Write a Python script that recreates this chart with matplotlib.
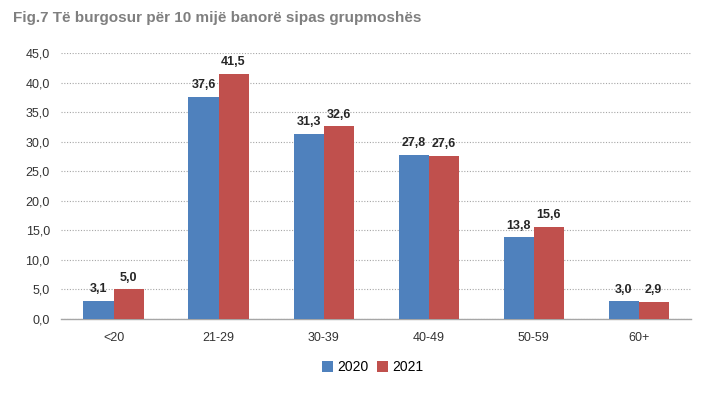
import matplotlib
matplotlib.use("Agg")
import matplotlib.pyplot as plt
import numpy as np
from matplotlib import font_manager

names = {f.name for f in font_manager.fontManager.ttflist}
fam = "Liberation Sans Narrow" if "Liberation Sans Narrow" in names else "Liberation Sans"
plt.rcParams['font.family'] = [fam, 'DejaVu Sans']

categories = ["<20", "21-29", "30-39", "40-49", "50-59", "60+"]
values_2020 = [3.1, 37.6, 31.3, 27.8, 13.8, 3.0]
values_2021 = [5.0, 41.5, 32.6, 27.6, 15.6, 2.9]
series_labels = ["2020", "2021"]
yticks = [0, 5, 10, 15, 20, 25, 30, 35, 40, 45]

fig = plt.figure(figsize=(7.2, 3.96), dpi=100)
ax = fig.add_axes([0.0847, 0.1944, 0.8753, 0.6716])
x = np.arange(len(categories))
w = 0.286
b1 = ax.bar(x - w/2, values_2020, w, color="#4f81bd", label=series_labels[0], zorder=3)
b2 = ax.bar(x + w/2, values_2021, w, color="#c0504d", label=series_labels[1], zorder=3)

def fmt(v):
    return f"{v:.1f}".replace(".", ",")

for bars, vals in ((b1, values_2020), (b2, values_2021)):
    for r, v in zip(bars, vals):
        ax.annotate(fmt(v), (r.get_x() + r.get_width()/2, v), xytext=(0, 4),
                    textcoords="offset points", ha="center", va="bottom",
                    fontsize=9, fontweight="bold", color="#262626")

ax.set_xlim(-0.5, len(categories) - 0.5)
ax.set_ylim(0, 45)
ax.set_yticks(yticks)
ax.set_yticklabels([fmt(t) for t in yticks], fontsize=9, color="#333333")
ax.set_xticks(x)
ax.set_xticklabels(categories, fontsize=9, color="#333333")
ax.tick_params(axis="both", length=0, pad=8)
ax.tick_params(axis="x", pad=9)
ax.grid(axis="y", linestyle=(0, (1, 1.5)), color="#a6a6a6", linewidth=0.8, zorder=0)
for s in ("left", "right", "top"):
    ax.spines[s].set_visible(False)
ax.spines["bottom"].set_color("#a6a6a6")
ax.spines["bottom"].set_linewidth(1.0)

fig.text(0.018, 0.955, "Fig.7 Të burgosur për 10 mijë banorë sipas grupmoshës",
         fontsize=11, fontweight="bold", color="#7f7f7f", va="center", ha="left")

fig.legend(handles=[b1, b2], labels=series_labels, loc="center", bbox_to_anchor=(0.518, 0.073),
           ncol=2, frameon=False, fontsize=10, handlelength=0.8, handleheight=0.8,
           handletextpad=0.3, columnspacing=0.6)

fig.savefig("out.png", dpi=100)
